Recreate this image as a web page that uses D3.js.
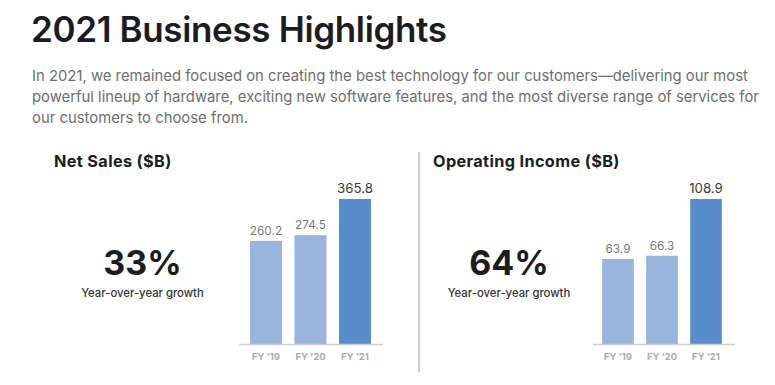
<!DOCTYPE html>
<html><head><meta charset="utf-8">
<script src="https://cdn.jsdelivr.net/npm/d3@7"></script>
<style>
html,body{margin:0;padding:0;background:#fff;}
svg{display:block;font-family:Inter,"Noto Sans",sans-serif;}
</style></head>
<body><svg id="c" width="775" height="385"></svg>
<script>
const title = "2021 Business Highlights";
const paragraph = [
  "In 2021, we remained focused on creating the best technology for our customers\u2014delivering our most",
  "powerful lineup of hardware, exciting new software features, and the most diverse range of services for",
  "our customers to choose from."
];
const years = ["FY \u201919", "FY \u201920", "FY \u201921"];
const netSales = [260.2, 274.5, 365.8];
const operatingIncome = [63.9, 66.3, 108.9];
const panelTitles = ["Net Sales ($B)", "Operating Income ($B)"];
const growth = ["33%", "64%"];
const growthLabel = "Year-over-year growth";

const svg = d3.select("#c");
svg.append("text").attr("x", 31).attr("y", 42)
  .attr("font-size", 35).attr("font-weight", 600).attr("fill", "#1d1d1f")
  .attr("letter-spacing", -0.35).text(title);
paragraph.forEach((t, i) => {
  svg.append("text").attr("x", 32).attr("y", 81 + i * 21)
    .attr("font-size", 14.85).attr("fill", "#6e6e6e").text(t);
});

// divider
svg.append("line").attr("x1", 419).attr("x2", 419).attr("y1", 152).attr("y2", 372)
  .attr("stroke", "#b8b8b8").attr("stroke-width", 1.5);

const panels = [
  {values: netSales, title: panelTitles[0], titleX: 54, growth: growth[0], cx: 142.5, range: [243.75, 377.25], axis: [239, 383]},
  {values: operatingIncome, title: panelTitles[1], titleX: 433, growth: growth[1], cx: 509, range: [596, 728], axis: [593, 735]}
];
const baseY = 344, topY = 199;
panels.forEach(p => {
  const g = svg.append("g");
  g.append("text").attr("x", p.titleX).attr("y", 167).attr("font-size", 16.3)
    .attr("font-weight", 700).attr("letter-spacing", 0.35).attr("fill", "#1d1d1f").text(p.title);
  g.append("text").attr("x", p.cx).attr("y", 275).attr("text-anchor", "middle")
    .attr("font-size", 34).attr("font-weight", 700).attr("fill", "#1d1d1f").text(p.growth);
  g.append("text").attr("x", p.cx).attr("y", 297).attr("text-anchor", "middle")
    .attr("font-size", 11.3).attr("font-weight", 500).attr("fill", "#333").text(growthLabel);

  const x = d3.scaleBand().domain(years).range(p.range).paddingInner(0.281).paddingOuter(0.14);
  const y = d3.scaleLinear().domain([0, d3.max(p.values)]).range([baseY, topY]);
  const data = years.map((c, i) => ({c, v: p.values[i], last: i === years.length - 1}));
  g.selectAll("rect.bar").data(data).join("rect").attr("class", "bar")
    .attr("x", d => x(d.c)).attr("width", x.bandwidth())
    .attr("y", d => y(d.v)).attr("height", d => baseY - y(d.v))
    .attr("fill", d => d.last ? "#588dcb" : "#9ab5dd");
  g.selectAll("text.val").data(data).join("text").attr("class", "val")
    .attr("x", d => x(d.c) + x.bandwidth() / 2).attr("y", d => y(d.v) - 6)
    .attr("text-anchor", "middle").attr("font-size", d => d.last ? 13.3 : 11.8)
    .attr("fill", d => d.last ? "#3a3a3a" : "#7a7a7a").text(d => d.v.toFixed(1));
  g.append("line").attr("x1", p.axis[0]).attr("x2", p.axis[1]).attr("y1", baseY + 0.5).attr("y2", baseY + 0.5)
    .attr("stroke", "#cfcfcf").attr("stroke-width", 1.5);
  const ax = g.append("g").attr("transform", `translate(0,${baseY})`)
    .call(d3.axisBottom(x).tickSize(0).tickPadding(9));
  ax.select(".domain").remove();
  ax.selectAll("text").attr("font-size", 9.5).attr("font-weight", 700).attr("fill", "#acacac")
    .attr("font-family", "Inter, 'Noto Sans', sans-serif");
});
</script></body></html>
